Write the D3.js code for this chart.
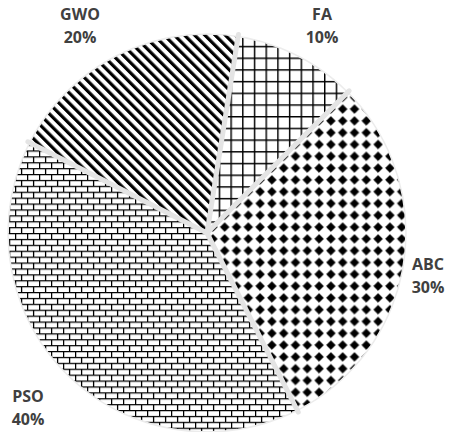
<!doctype html>
<html>
  <head>
    <meta charset="utf8">
    <script src="https://d3js.org/d3.v7.min.js"></script>
    <style type="text/css">
      body { margin: 0; background: #fff; }
      text { font-family: 'Open Sans', sans-serif; font-weight: bold; }
    </style>
  </head>
  <body>
    <script type="text/javascript">
      const w = 450;
      const h = 432;

      // slices clockwise from the top
      const names = ['FA', 'ABC', 'PSO', 'GWO'];
      const shares = [10, 30, 40, 20];
      const patterns = ['grid', 'diamond', 'brick', 'stripe'];
      // label anchor (centre of the name) for each slice
      const labelPos = [[322, 20], [428, 270], [28, 402], [80, 20]];

      const cx = 207;
      const cy = 233;
      const radius = 199;
      const rotate = 9 * Math.PI / 180;

      const svg = d3.select('body')
        .append('svg')
        .attr('width', w)
        .attr('height', h);

      const defs = svg.append('defs');

      // square grid
      const grid = defs.append('pattern')
        .attr('id', 'grid')
        .attr('patternUnits', 'userSpaceOnUse')
        .attr('width', 11.7).attr('height', 11.7);
      grid.append('rect').attr('width', 11.7).attr('height', 11.7).attr('fill', '#fff');
      grid.append('path')
        .attr('d', 'M0.7,0V11.7M0,0.7H11.7')
        .attr('stroke', '#000').attr('stroke-width', 1.5);

      // solid diamonds
      const dia = defs.append('pattern')
        .attr('id', 'diamond')
        .attr('patternUnits', 'userSpaceOnUse')
        .attr('width', 11.8).attr('height', 11.8);
      dia.append('rect').attr('width', 11.8).attr('height', 11.8).attr('fill', '#fff');
      dia.append('path')
        .attr('d', 'M5.9,1.5L10.3,5.9L5.9,10.3L1.5,5.9Z')
        .attr('fill', '#000')
        .attr('stroke', '#000').attr('stroke-width', 0.6)
        .attr('stroke-linejoin', 'round');

      // bricks
      const brick = defs.append('pattern')
        .attr('id', 'brick')
        .attr('patternUnits', 'userSpaceOnUse')
        .attr('width', 12).attr('height', 11.8);
      brick.append('rect').attr('width', 12).attr('height', 11.8).attr('fill', '#fff');
      brick.append('path')
        .attr('d', 'M0,0.6H12M0,6.5H12M0.6,0.6V6.5M6.6,6.5V11.8')
        .attr('stroke', '#000').attr('stroke-width', 1.3)
        .attr('fill', 'none');

      // wide downward diagonal
      const stripe = defs.append('pattern')
        .attr('id', 'stripe')
        .attr('patternUnits', 'userSpaceOnUse')
        .attr('width', 7.2).attr('height', 10)
        .attr('patternTransform', 'rotate(-45)');
      stripe.append('rect').attr('width', 7.2).attr('height', 10).attr('fill', '#fff');
      stripe.append('rect').attr('width', 3.2).attr('height', 10).attr('fill', '#000');

      const pie = d3.pie()
        .sort(null)
        .startAngle(rotate)
        .endAngle(rotate + 2 * Math.PI);

      const arc = d3.arc()
        .innerRadius(0)
        .outerRadius(radius);

      const g = svg.append('g')
        .attr('transform', `translate(${cx},${cy})`);

      const slices = pie(shares);

      g.selectAll('path.slice')
        .data(slices)
        .enter()
        .append('path')
        .attr('class', 'slice')
        .attr('d', arc)
        .attr('fill', (d, i) => `url(#${patterns[i]})`);

      // faint rim
      g.append('circle')
        .attr('r', radius)
        .attr('fill', 'none')
        .attr('stroke', '#ececec')
        .attr('stroke-width', 1.5);

      // light grey gaps between the slices
      g.selectAll('line.gap')
        .data(slices)
        .enter()
        .append('line')
        .attr('class', 'gap')
        .attr('x1', 0).attr('y1', 0)
        .attr('x2', (d) => (radius + 2) * Math.sin(d.startAngle))
        .attr('y2', (d) => -(radius + 2) * Math.cos(d.startAngle))
        .attr('stroke', '#e4e4e4')
        .attr('stroke-width', 5)
        .attr('stroke-linecap', 'round');

      const labels = svg.selectAll('g.label')
        .data(names)
        .enter()
        .append('g')
        .attr('class', 'label')
        .attr('transform', (d, i) => `translate(${labelPos[i][0]},${labelPos[i][1]})`);

      labels.append('text')
        .attr('text-anchor', 'middle')
        .attr('font-size', '16px')
        .attr('fill', '#404040')
        .text((d) => d);

      labels.append('text')
        .attr('text-anchor', 'middle')
        .attr('y', 23)
        .attr('font-size', '16px')
        .attr('fill', '#404040')
        .text((d, i) => shares[i] + '%');
    </script>
  </body>
</html>
